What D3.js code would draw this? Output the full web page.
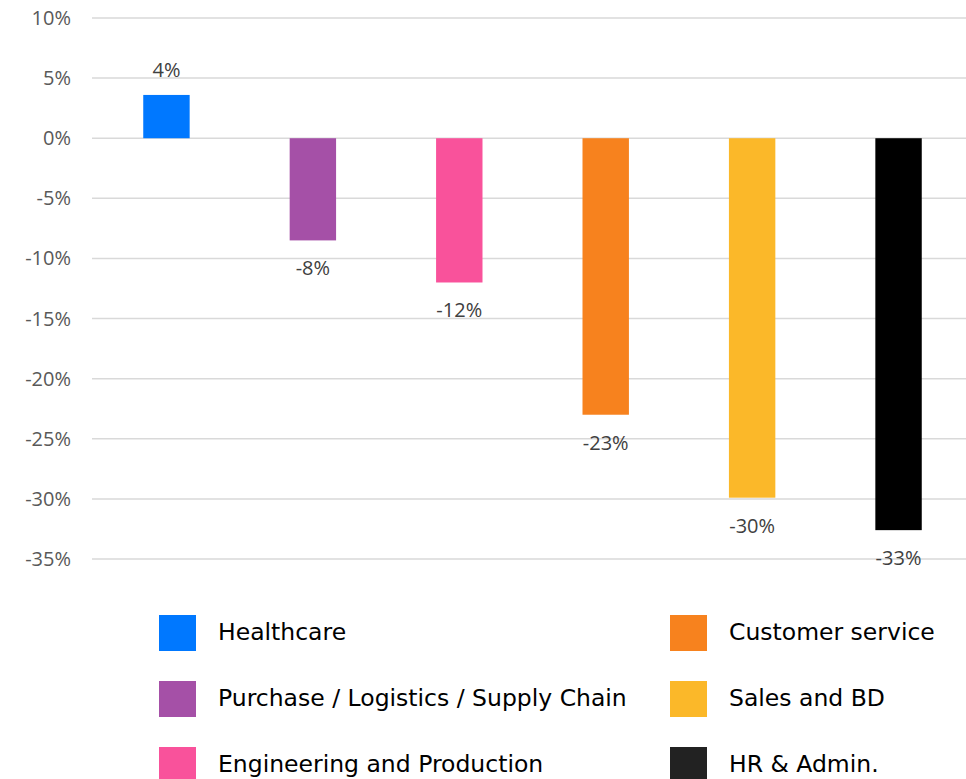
<!DOCTYPE html>
<html>
<head>
<meta charset="utf-8">
<script src="https://cdn.jsdelivr.net/npm/d3@7"></script>
<style>
  body { margin: 0; background: #fff; }
  .tick-label, .bar-label { font-family: 'Open Sans', sans-serif; font-size: 20px; }
  .legend-label { font-family: 'DejaVu Sans', sans-serif; font-size: 23.5px; fill: #000; }
</style>
</head>
<body>
<script>
var categories = ['Healthcare', 'Purchase / Logistics / Supply Chain', 'Engineering and Production', 'Customer service', 'Sales and BD', 'HR & Admin.']
var values = [3.6, -8.5, -12, -23, -29.9, -32.6]
var labels = ['4%', '-8%', '-12%', '-23%', '-30%', '-33%']
var colors = ['#0078ff', '#a550a7', '#f9529b', '#f7821e', '#fbb829', '#000000']
var legendColors = ['#0078ff', '#a550a7', '#f9529b', '#f7821e', '#fbb829', '#222222']
var yTicks = [10, 5, 0, -5, -10, -15, -20, -25, -30, -35]

var w = 966
var h = 779

var svg = d3.select('body')
            .append('svg')
            .attr('width', w)
            .attr('height', h)

var x = d3.scaleBand()
        .domain(categories)
        .range([92, 973])
        .paddingInner(0.683)
        .paddingOuter(0.35)

var y = d3.scaleLinear()
        .domain([-35, 10])
        .range([559, 18])

// GRID LINES
svg.selectAll('.grid')
  .data(yTicks)
  .enter()
    .append('line')
    .attr('x1', 92)
    .attr('x2', w)
    .attr('y1', function (d) { return y(d) })
    .attr('y2', function (d) { return y(d) })
    .style('stroke', '#d9d9d9')
    .style('stroke-width', 1.5)

// Y AXIS LABELS
svg.selectAll('.tick-label')
  .data(yTicks)
  .enter()
    .append('text')
    .classed('tick-label', true)
    .attr('x', 71)
    .attr('y', function (d) { return y(d) })
    .attr('dy', '0.35em')
    .attr('text-anchor', 'end')
    .style('fill', '#595959')
    .text(function (d) { return d + '%' })

// BARS
svg.selectAll('.bar')
  .data(values)
  .enter()
    .append('rect')
    .classed('bar', true)
    .attr('x', function (d, i) { return x(categories[i]) })
    .attr('y', function (d) { return y(Math.max(0, d)) })
    .attr('width', x.bandwidth())
    .attr('height', function (d) { return Math.abs(y(d) - y(0)) })
    .style('fill', function (d, i) { return colors[i] })

// BAR LABELS
svg.selectAll('.bar-label')
  .data(values)
  .enter()
    .append('text')
    .classed('bar-label', true)
    .attr('x', function (d, i) { return x(categories[i]) + x.bandwidth() / 2 })
    .attr('y', function (d) { return d >= 0 ? y(d) - 18 : y(d) + 35 })
    .attr('text-anchor', 'middle')
    .style('fill', '#404040')
    .text(function (d, i) { return labels[i] })

// LEGEND
var legend = svg.selectAll('.legend')
  .data(categories)
  .enter()
    .append('g')
    .attr('transform', function (d, i) {
      var col = Math.floor(i / 3)
      var row = i % 3
      return 'translate(' + (col === 0 ? 159 : 670) + ',' + (615 + row * 66) + ')'
    })

legend.append('rect')
  .attr('width', 37)
  .attr('height', 36)
  .style('fill', function (d, i) { return legendColors[i] })

legend.append('text')
  .classed('legend-label', true)
  .attr('x', 59)
  .attr('y', 25)
  .text(function (d) { return d })
</script>
</body>
</html>
